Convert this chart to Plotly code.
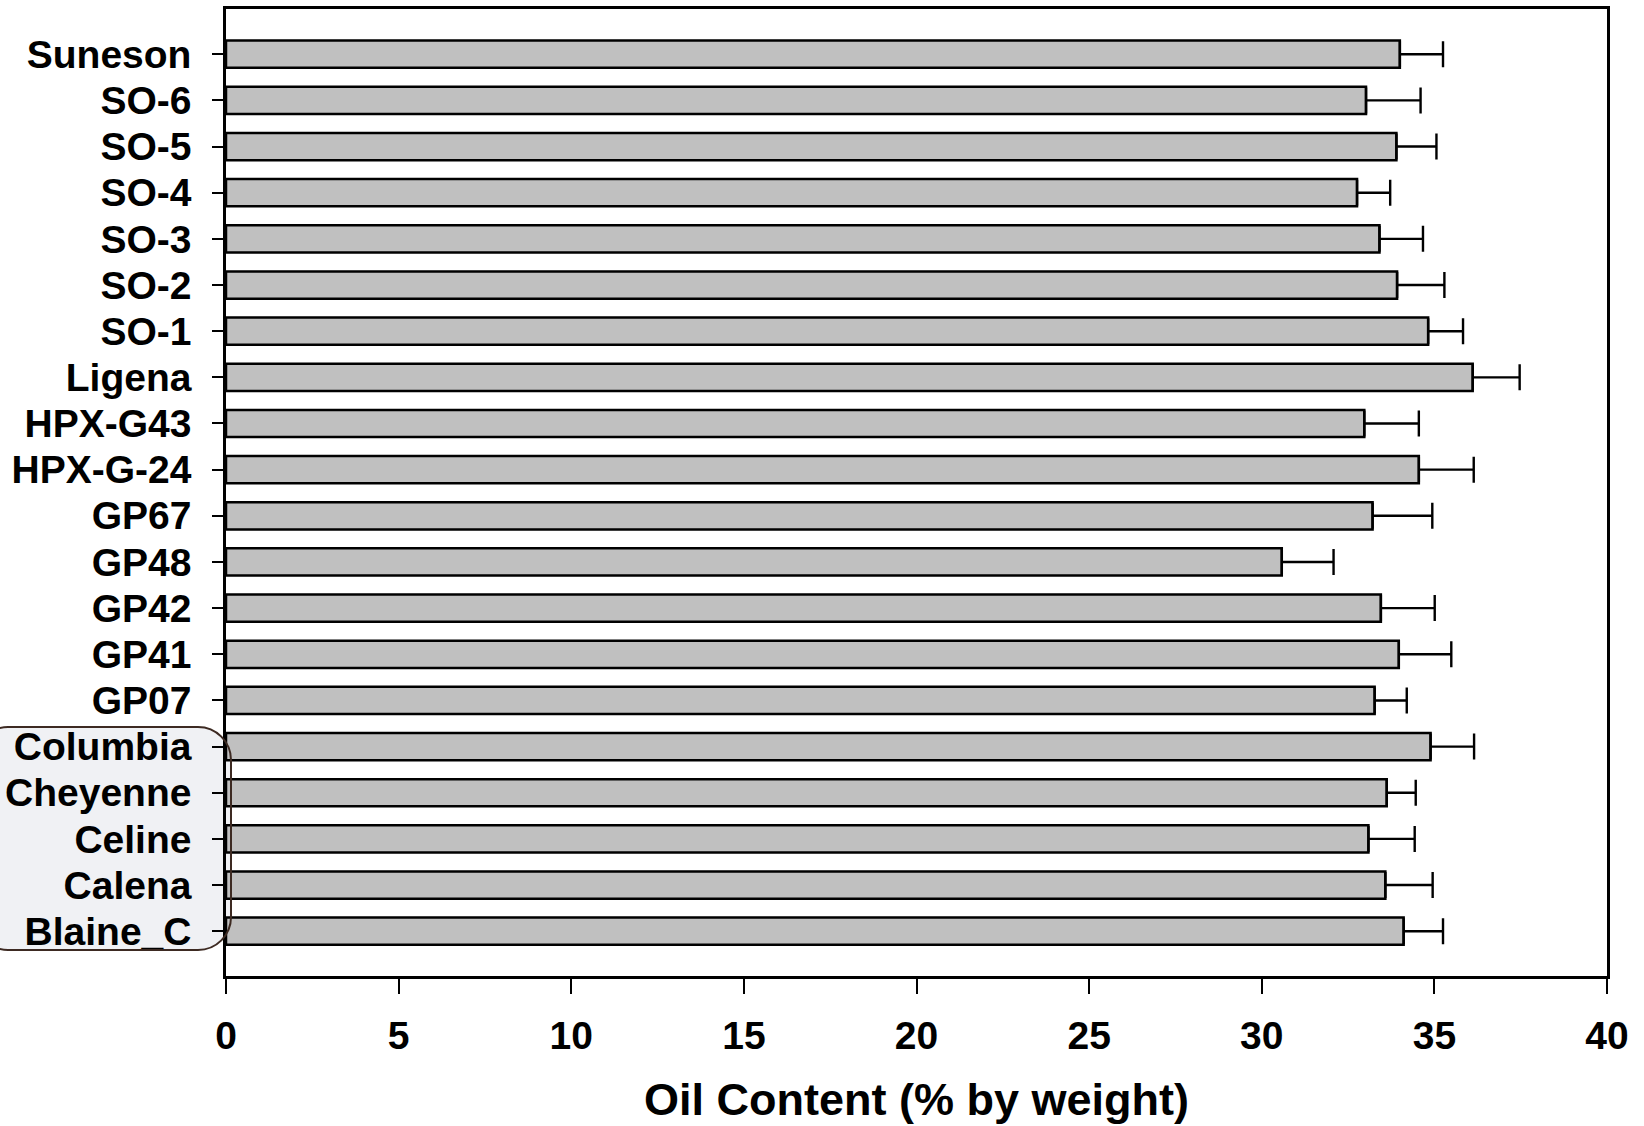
import plotly.graph_objects as go

# ---- data (bottom to top on the chart) ----
categories = ["Blaine_C", "Calena", "Celine", "Cheyenne", "Columbia", "GP07", "GP41",
              "GP42", "GP48", "GP67", "HPX-G-24", "HPX-G43", "Ligena", "SO-1", "SO-2",
              "SO-3", "SO-4", "SO-5", "SO-6", "Suneson"]
oil_content = [34.11, 33.58, 33.09, 33.62, 34.89, 33.27, 33.97, 33.45, 30.58, 33.21,
               34.55, 32.97, 36.11, 34.82, 33.92, 33.41, 32.76, 33.90, 33.02, 34.00]
oil_error = [1.14, 1.37, 1.34, 0.84, 1.26, 0.93, 1.52, 1.56, 1.50, 1.73,
             1.59, 1.58, 1.36, 1.01, 1.37, 1.26, 0.96, 1.16, 1.58, 1.25]
x_ticks = [0, 5, 10, 15, 20, 25, 30, 35, 40]
x_title = "Oil Content (% by weight)"

# ---- layout geometry (pixels) ----
W, H = 1644, 1126
ML, MR, MT, MB = 226, 37, 9, 150
PW, PH = W - ML - MR, H - MT - MB
FONT = "Liberation Sans, Arial, sans-serif"


def fx(px):
    return (px - ML) / PW


def fy(py):
    return (H - MB - py) / PH


def rounded_rect_path(left, top, right, bottom, r):
    c = 0.5523 * r
    pts = [
        ("M", [(left + r, top)]),
        ("L", [(right - r, top)]),
        ("C", [(right - r + c, top), (right, top + r - c), (right, top + r)]),
        ("L", [(right, bottom - r)]),
        ("C", [(right, bottom - r + c), (right - r + c, bottom), (right - r, bottom)]),
        ("L", [(left + r, bottom)]),
        ("C", [(left + r - c, bottom), (left, bottom - r + c), (left, bottom - r)]),
        ("L", [(left, top + r)]),
        ("C", [(left, top + r - c), (left + r - c, top), (left + r, top)]),
    ]
    s = ""
    for cmd, ps in pts:
        s += cmd + " ".join(f"{fx(x):.5f},{fy(y):.5f}" for x, y in ps) + " "
    return s + "Z"


fig = go.Figure()
fig.add_trace(go.Bar(
    y=categories,
    x=oil_content,
    orientation="h",
    marker=dict(color="#c0c0c0", line=dict(color="black", width=2.5)),
    error_x=dict(type="data", symmetric=False, array=oil_error,
                 arrayminus=[0] * len(oil_error),
                 color="black", thickness=2.4, width=13),
    showlegend=False,
))

box_path = rounded_rect_path(-25, 727, 231, 950, 33)
fig.add_shape(type="path", xref="paper", yref="paper", path=box_path,
              fillcolor="#f0f1f4", line=dict(width=0), layer="below")
fig.add_shape(type="path", xref="paper", yref="paper", path=box_path,
              fillcolor="rgba(0,0,0,0)", line=dict(color="#3d2a22", width=2),
              layer="above")

fig.add_annotation(text=x_title, xref="paper", yref="paper",
                   x=0.5, y=fy(1099), xanchor="center", yanchor="middle",
                   showarrow=False,
                   font=dict(family=FONT, size=45, color="black", weight="bold"))

fig.update_layout(
    width=W, height=H,
    margin=dict(l=ML, r=MR, t=MT, b=MB, pad=0, autoexpand=False),
    paper_bgcolor="white", plot_bgcolor="white",
    bargap=0.41,
    font=dict(family=FONT, color="black"),
)
fig.update_xaxes(
    range=[0, 40], tickmode="array", tickvals=x_ticks, ticktext=[str(v) for v in x_ticks],
    showgrid=False, zeroline=False, automargin=False,
    showline=True, linecolor="black", linewidth=2.5, mirror=True,
    ticks="outside", ticklen=15, tickwidth=2, tickcolor="black",
    ticklabelstandoff=8,
    tickfont=dict(family=FONT, size=39, color="black", weight="bold"),
)
fig.update_yaxes(
    type="category", categoryorder="array", categoryarray=categories,
    tickmode="array", tickvals=categories, ticktext=categories,
    range=[-0.97, 19.98],
    showgrid=False, zeroline=False, automargin=False,
    showline=True, linecolor="black", linewidth=2.5, mirror=True,
    ticks="outside", ticklen=11, tickwidth=2, tickcolor="black",
    ticklabelstandoff=13,
    tickfont=dict(family=FONT, size=39, color="black", weight="bold"),
)

fig.write_html("out.html", config={"displayModeBar": False},
               post_script="document.body.style.margin='0';document.body.style.overflow='hidden';")
